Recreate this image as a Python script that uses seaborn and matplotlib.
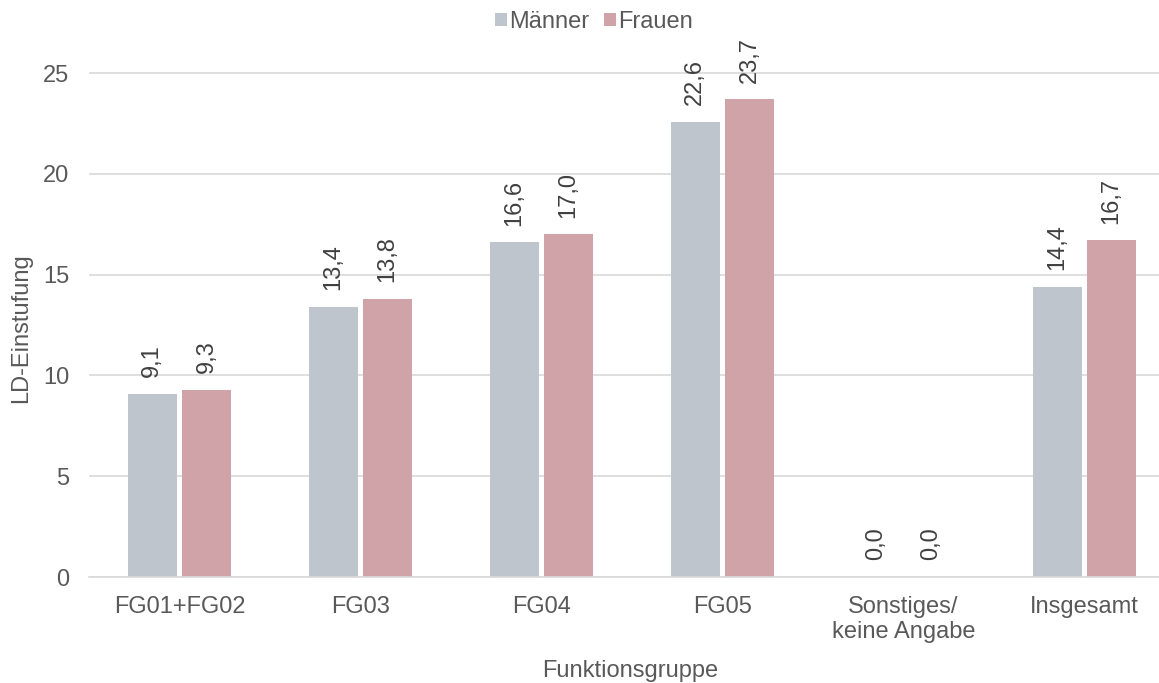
import matplotlib
matplotlib.use("Agg")
import matplotlib.pyplot as plt
import seaborn as sns
import pandas as pd

categories = ["FG01+FG02", "FG03", "FG04", "FG05", "Sonstiges/\nkeine Angabe", "Insgesamt"]
maenner = [9.1, 13.4, 16.6, 22.6, 0.0, 14.4]
frauen = [9.3, 13.8, 17.0, 23.7, 0.0, 16.7]
series = ["Männer", "Frauen"]
yticks = [0, 5, 10, 15, 20, 25]

sns.set_theme(style="white")
plt.rcParams["font.family"] = ["Liberation Sans", "DejaVu Sans"]
text_color = "#595959"
label_color = "#404040"
grid_color = "#D9D9D9"
fs = 17

df = pd.DataFrame({
    "Funktionsgruppe": categories * 2,
    "Wert": maenner + frauen,
    "Geschlecht": [series[0]] * len(categories) + [series[1]] * len(categories),
})

fig = plt.figure(figsize=(11.59, 6.83), dpi=100)
ax = fig.add_axes([89 / 1159, 1 - 577 / 683, 1 - 89 / 1159, (577 - 45) / 683])

palette = {"Männer": "#BEC5CC", "Frauen": "#CFA3A8"}
sns.barplot(data=df, x="Funktionsgruppe", y="Wert", hue="Geschlecht",
            palette=palette, saturation=1, width=0.6, gap=0.09, linewidth=0,
            ax=ax, legend=True)

for cont in ax.containers:
    ax.bar_label(cont, labels=[f"{v:.1f}".replace(".", ",") for v in cont.datavalues],
                 rotation=90, padding=12, fontsize=fs, color=label_color)

ax.set_ylim(0, 26.4)
ax.set_xlim(-0.5, -0.5 + (1159 - 89) / 181)
ax.set_yticks(yticks)
ax.set_yticklabels([str(t) for t in yticks])
ax.yaxis.grid(True, color=grid_color, linewidth=1.2)
ax.set_axisbelow(True)
for s in ["top", "right", "left"]:
    ax.spines[s].set_visible(False)
ax.spines["bottom"].set_color(grid_color)
ax.spines["bottom"].set_linewidth(1.2)
ax.tick_params(axis="y", length=0, labelsize=fs, labelcolor=text_color, pad=14)
ax.tick_params(axis="x", length=0, labelsize=fs, labelcolor=text_color, pad=14)
for t in ax.get_xticklabels():
    t.set_linespacing(1.15)
ax.set_xlabel("Funktionsgruppe", fontsize=fs, color=text_color, labelpad=12)
ax.set_ylabel("LD-Einstufung", fontsize=fs, color=text_color, labelpad=8)
ax.xaxis.label.set_x((630 - 89) / 1070)
ax.yaxis.label.set_y((577 - 328) / 532)

handles, labels = ax.get_legend_handles_labels()
ax.legend(handles, labels, loc="center", bbox_to_anchor=((594 - 89) / 1070, 1 + 23 / 532),
          ncol=2, frameon=False, fontsize=fs, handlelength=0.5, handleheight=0.5,
          handletextpad=0.12, columnspacing=0.6, labelcolor=text_color)

fig.savefig("out.png", dpi=100)
